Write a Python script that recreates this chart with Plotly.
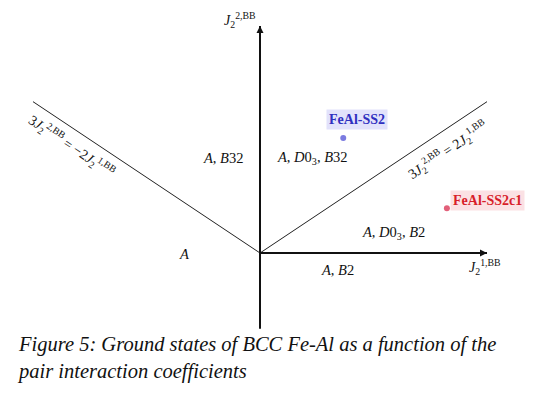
import plotly.graph_objects as go

# ---- data ----
boundary_left_x = [-3, 0]
boundary_left_y = [2, 0]
boundary_right_x = [0, 3]
boundary_right_y = [0, 2]
haxis_x = [0, 3]
vaxis_y = [-1, 3]

point_names = ["FeAl-SS2", "FeAl-SS2c1"]
point_x = [1.10, 2.47]
point_y = [1.52, 0.59]
point_colors = ["#7b7be0", "#e2607a"]
point_text_colors = ["#2f2fc0", "#d81e2a"]
point_bg = ["#e2e2fb", "#fbe1e4"]
point_label_x = [1.28, 3.00]
point_label_y = [1.76, 0.70]

region_labels = ["<i>A</i>, <i>B</i>32", "<i>A</i>, <i>D</i>0<sub>3</sub>, <i>B</i>32",
                 "<i>A</i>", "<i>A</i>, <i>D</i>0<sub>3</sub>, <i>B</i>2", "<i>A</i>, <i>B</i>2"]
region_x = [-0.49, 0.70, -1.00, 1.76, 1.02]
region_y = [1.255, 1.255, -0.01, 0.26, -0.225]

caption = ("<i>Figure 5: Ground states of BCC Fe-Al as a function of the</i><br>"
           "<i>pair interaction coefficients</i>")

SERIF = "Liberation Serif"

fig = go.Figure()

# boundary lines
fig.add_trace(go.Scatter(x=boundary_left_x, y=boundary_left_y, mode="lines",
                         line=dict(color="#222", width=1), hoverinfo="skip"))
fig.add_trace(go.Scatter(x=boundary_right_x, y=boundary_right_y, mode="lines",
                         line=dict(color="#222", width=1), hoverinfo="skip"))
# axes
fig.add_trace(go.Scatter(x=[0, 0], y=vaxis_y, mode="lines",
                         line=dict(color="#111", width=2), hoverinfo="skip"))
fig.add_trace(go.Scatter(x=haxis_x, y=[0, 0], mode="lines",
                         line=dict(color="#111", width=2), hoverinfo="skip"))

# points
fig.add_trace(go.Scatter(x=point_x, y=point_y, mode="markers",
                         marker=dict(color=point_colors, size=6), hoverinfo="skip"))

annotations = []
# arrowheads
annotations.append(dict(x=0, y=vaxis_y[1], ax=0, ay=vaxis_y[1] - 0.3, xref="x", yref="y",
                        axref="x", ayref="y", showarrow=True, arrowhead=2, arrowsize=0.7,
                        arrowwidth=2, arrowcolor="#111", text=""))
annotations.append(dict(x=haxis_x[1], y=0, ax=haxis_x[1] - 0.3, ay=0, xref="x", yref="y",
                        axref="x", ayref="y", showarrow=True, arrowhead=2, arrowsize=0.7,
                        arrowwidth=2, arrowcolor="#111", text=""))

# axis labels
annotations.append(dict(x=-0.26, y=3.08, xref="x", yref="y", showarrow=False,
                        text="<i>J</i><sub>2</sub><sup>2,BB</sup>",
                        font=dict(family=SERIF, size=14, color="#111")))
annotations.append(dict(x=2.97, y=-0.19, xref="x", yref="y", showarrow=False,
                        text="<i>J</i><sub>2</sub><sup>1,BB</sup>",
                        font=dict(family=SERIF, size=14, color="#111")))

# line labels
annotations.append(dict(x=-2.49, y=1.42, xref="x", yref="y", showarrow=False, textangle=33.8,
                        text="3<i>J</i><sub>2</sub><sup>2,BB</sup> = −2<i>J</i><sub>2</sub><sup>1,BB</sup>",
                        font=dict(family=SERIF, size=14, color="#111")))
annotations.append(dict(x=2.48, y=1.355, xref="x", yref="y", showarrow=False, textangle=-33.8,
                        text="3<i>J</i><sub>2</sub><sup>2,BB</sup> = 2<i>J</i><sub>2</sub><sup>1,BB</sup>",
                        font=dict(family=SERIF, size=14, color="#111")))

# region labels
for t, x, y in zip(region_labels, region_x, region_y):
    annotations.append(dict(x=x, y=y, xref="x", yref="y", showarrow=False, text=t,
                            font=dict(family=SERIF, size=14.5, color="#111")))

# point labels
for n, x, y, c, bg in zip(point_names, point_label_x, point_label_y, point_text_colors, point_bg):
    annotations.append(dict(x=x, y=y, xref="x", yref="y", showarrow=False, text="<b>" + n + "</b>",
                            bgcolor=bg, borderpad=2,
                            font=dict(family=SERIF, size=14, color=c)))

# caption
annotations.append(dict(x=15 / 533, y=1 - 331 / 393, xref="paper", yref="paper",
                        xanchor="left", yanchor="top", align="left", showarrow=False,
                        text=caption, font=dict(family=SERIF, size=20.5, color="#111")))

u = 75.67
fig.update_layout(
    width=533, height=393, margin=dict(l=0, r=0, t=0, b=0),
    paper_bgcolor="white", plot_bgcolor="white", showlegend=False,
    xaxis=dict(range=[-260 / u, 273 / u], visible=False, fixedrange=True),
    yaxis=dict(range=[-140 / u, 253 / u], visible=False, fixedrange=True),
    annotations=annotations,
)

fig.write_html("out.html")
